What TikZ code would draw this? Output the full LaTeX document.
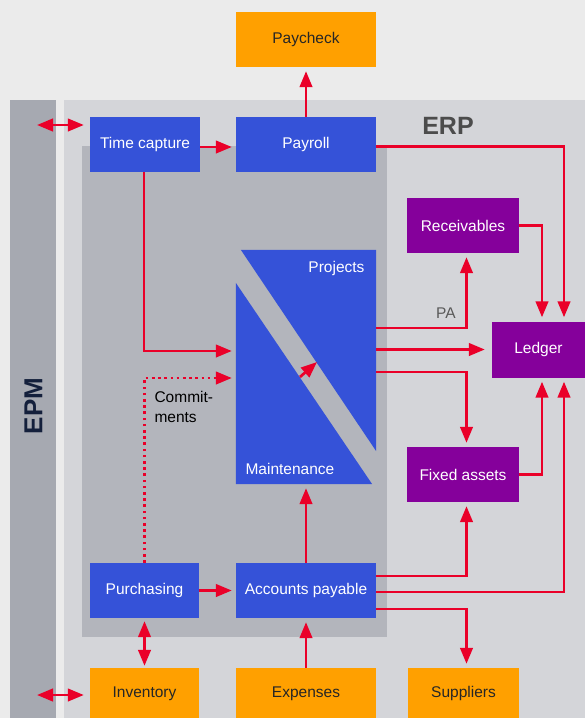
\documentclass[tikz,border=0pt]{standalone}
\usepackage{fontspec}
\setmainfont{Liberation Sans}
\usetikzlibrary{arrows.meta}

\definecolor{pagegray}{HTML}{EBEBEB}
\definecolor{erpgray}{HTML}{D4D5D9}
\definecolor{epmgray}{HTML}{A6A9B1}
\definecolor{innergray}{HTML}{B3B5BC}
\definecolor{erpblue}{HTML}{3552D8}
\definecolor{erppurple}{HTML}{85009B}
\definecolor{extorange}{HTML}{FFA000}
\definecolor{linkred}{HTML}{EA0029}
\definecolor{epmnavy}{HTML}{14203C}

\tikzset{
  box/.style={inner sep=0pt, minimum height=55pt, font=\fontsize{15.5}{18}\selectfont},
  sysbox/.style={box, fill=erpblue, text=white},
  ledgerbox/.style={box, fill=erppurple, text=white},
  extbox/.style={box, fill=extorange, text=black!85, minimum height=51pt},
  link/.style={draw=linkred, line width=2.7pt, -{Triangle[length=16pt,width=12.5pt]}, shorten >=4pt},
  dbl/.style={link, {Triangle[length=16pt,width=12.5pt]}-{Triangle[length=16pt,width=12.5pt]}},
}

\begin{document}
\begin{tikzpicture}[x=1pt,y=-1pt]
    \useasboundingbox (0,0) rectangle (585,718);
    % backgrounds
    \fill[pagegray] (0,0) rectangle (585,718);
    \fill[erpgray] (64,100) rectangle (585,718);
    \fill[epmgray] (10,100) rectangle (56,718);
    \fill[innergray] (82,146) rectangle (387,637);
    \node[text=epmnavy, rotate=90, font=\fontsize{26}{26}\bfseries\selectfont] (epm) at (33.5,406) {EPM};
    \node[text=black!70, font=\fontsize{25}{25}\bfseries\selectfont] (erp) at (448,125.5) {ERP};

    % projects / maintenance block
    \node[inner sep=0pt, minimum width=140pt, minimum height=234pt] (pm) at (306,367) {};
    \fill[erpblue] ([xshift=5pt]pm.north west) -- (pm.north east) -- ([yshift=33pt]pm.south east) -- cycle;
    \fill[erpblue] ([yshift=-33pt]pm.north west) -- (pm.south west) -- ([xshift=-4pt]pm.south east) -- cycle;
    \node[text=white, font=\fontsize{15.5}{18}\selectfont, anchor=east] (proj) at (368,268) {Projects};
    \node[text=white, font=\fontsize{15.5}{18}\selectfont, anchor=west] (maint) at (242,469) {Maintenance};

    % boxes
    \node[extbox, minimum height=55pt, minimum width=140pt] (paycheck) at (306,39.5) {Paycheck};
    \node[sysbox, minimum width=110pt] (timecap) at (145,144.5) {Time capture};
    \node[sysbox, minimum width=140pt] (payroll) at (306,144.5) {Payroll};
    \node[ledgerbox, minimum width=112pt] (recv) at (463,225.5) {Receivables};
    \node[ledgerbox, minimum width=93pt, minimum height=56pt] (ledger) at (538.5,349.5) {Ledger};
    \node[ledgerbox, minimum width=112pt] (fixed) at (463,474.5) {Fixed assets};
    \node[sysbox, minimum width=109pt] (purch) at (144.5,590.5) {Purchasing};
    \node[sysbox, minimum width=140pt] (ap) at (306,590.5) {Accounts payable};
    \node[extbox, minimum width=109pt] (inv) at (144.5,693.5) {Inventory};
    \node[extbox, minimum width=140pt] (exp) at (306,693.5) {Expenses};
    \node[extbox, minimum width=111pt] (supp) at (463.5,693.5) {Suppliers};

    % connectors
    \coordinate (epmtc) at (37,125);
    \coordinate (epminv) at (37,695);
    \draw[dbl, shorten >=6pt] (epmtc) -- (epmtc -| timecap.west);
    \draw[dbl, shorten >=6pt] (epminv) -- (epminv -| inv.west);
    \draw[link] ([yshift=-2.5pt]timecap.east) -- ([yshift=-2.5pt]payroll.west);
    \draw[link] (payroll.north) -- (paycheck.south);
    \draw[link] ([yshift=-2pt]payroll.east) -| ([xshift=25.5pt]ledger.north);
    \draw[link] (recv.east) -| ([xshift=3.5pt]ledger.north);
    \draw[link] ([xshift=-1pt]timecap.south) |- ([yshift=16pt]pm.west);
    \draw[link, dash pattern=on 2.7pt off 3.5pt] (purch.north) |- ([yshift=-11pt]pm.west);
    \node[anchor=north west, align=left, font=\fontsize{15.5}{20}\selectfont] (commit) at (151,388) {Commit-\\ments};
    \draw[link] ([yshift=39pt]pm.east) -| ([xshift=3.5pt]recv.south);
    \node[text=black!65, font=\fontsize{15.5}{18}\selectfont] (pa) at (446,313) {PA};
    \draw[link, shorten >=7pt] (pm.east |- ledger) -- (ledger.west);
    \draw[link] ([yshift=-5pt]pm.east) -| ([xshift=3.5pt]fixed.north);
    \draw[link] (fixed.east) -| ([xshift=3.5pt]ledger.south);
    \draw[link] ([yshift=-1.5pt]ap.east) -| ([xshift=25.5pt]ledger.south);
    \draw[link] ([yshift=14.5pt]ap.east) -| ([xshift=3.5pt]fixed.south);
    \draw[link] ([yshift=-18.5pt]ap.east) -| ([xshift=3pt]supp.north);
    \draw[link] (purch.east) -- (ap.west);
    \draw[link] (ap.north) -- (pm.south);
    \draw[link] (exp.north) -- (ap.south);
    \draw[dbl, shorten >=3pt, shorten <=2pt] (inv.north) -- (purch.south);
    \coordinate (stripeA) at (300,377);
    \coordinate (stripeB) at (317,362);
    \draw[link, shorten >=0pt] (stripeA) -- (stripeB);
\end{tikzpicture}
\end{document}
